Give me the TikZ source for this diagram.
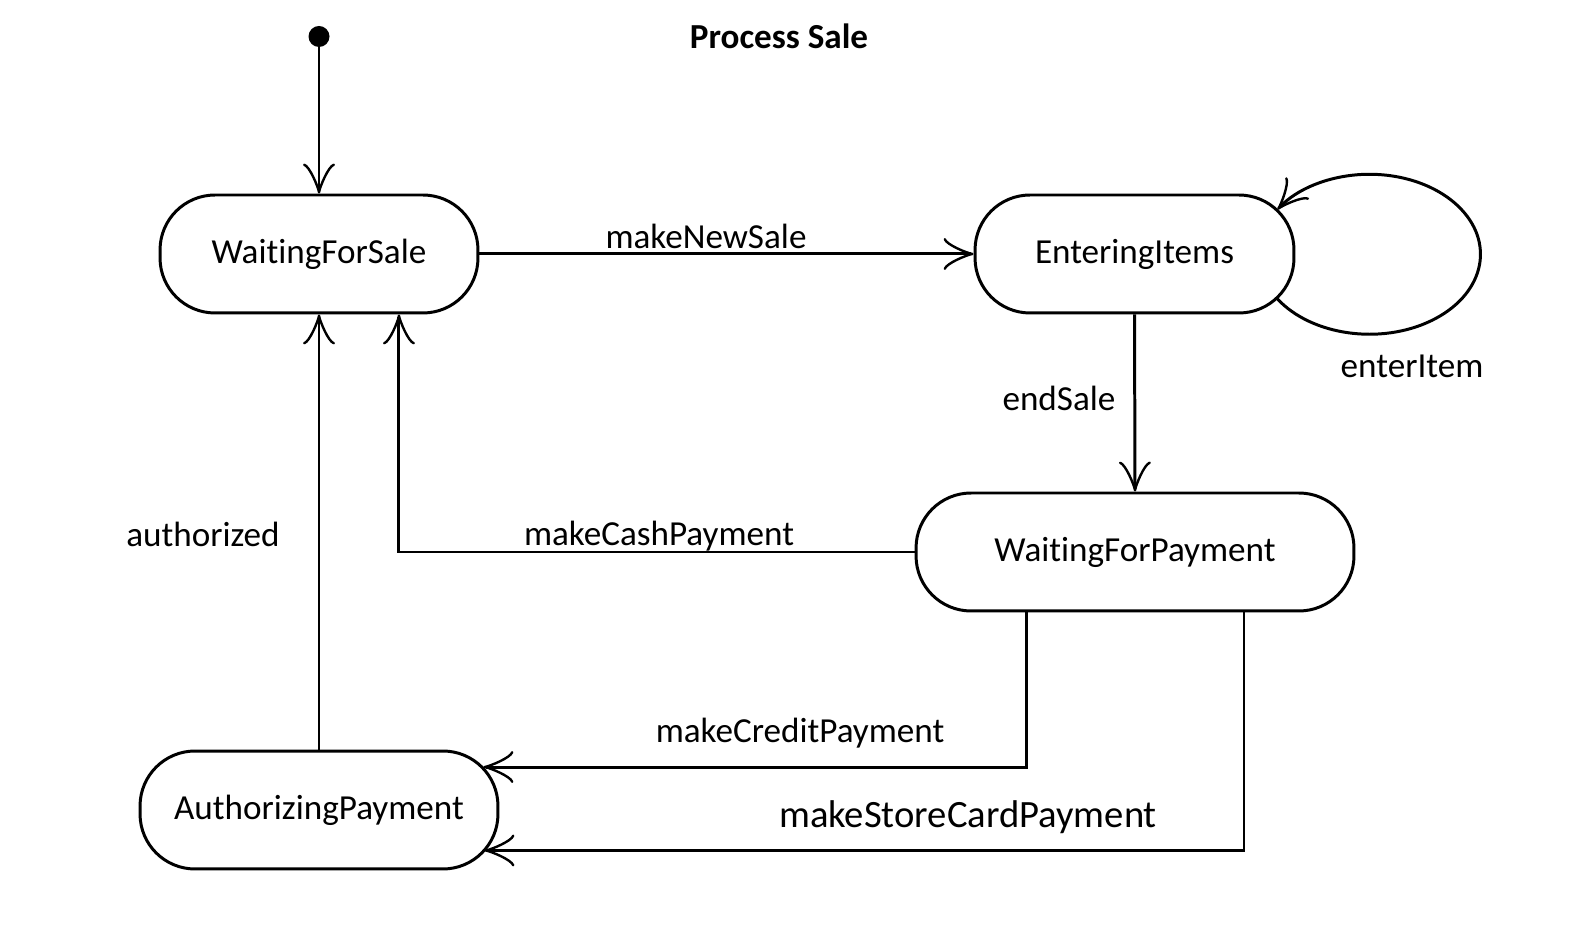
\documentclass[tikz,border=0pt]{standalone}
\usepackage{fontspec}
\setmainfont{Carlito}[Ligatures=NoCommon]
\usetikzlibrary{arrows.meta}
\newcommand{\txt}{\fontsize{20}{24}\selectfont}

\begin{document}
\begin{tikzpicture}[x=0.02cm,y=0.02cm,
% State style
state/.style={rectangle,rounded corners=1.1cm,draw,line width=1.7pt,
	fill=white,minimum height=2.36cm,font=\txt,inner sep=0pt},
init/.style={circle,fill=black,minimum size=0.42cm,inner sep=0pt},
% Transition style
trans/.style={line width=1.7pt,
	-{Classical TikZ Rightarrow[length=0.6cm,width=0.64cm]}},
% Label style
lbl/.style={font=\txt,inner sep=0pt},
]
\useasboundingbox (0,0) rectangle (1588,926);
%% Draw states
\node (start) [init] at (319,889.5) {};
\node (title) [font=\fontsize{20}{24}\selectfont\bfseries] at (779,889.5) {Process Sale};
\node (s1) [state,minimum width=6.36cm] at (319,672) {WaitingForSale};
\node (s2) [state,minimum width=6.38cm] at (1134.5,672) {EnteringItems};
\node (s3) [state,minimum width=8.76cm] at (1135,374) {WaitingForPayment};
\node (s4) [state,minimum width=7.16cm] at (319,116) {AuthorizingPayment};

%% Draw transitions
\draw [trans] (start) -- (s1.north);
\draw [trans] (s1.east) -- (s2.west);
\draw [trans] ([xshift=-0.36cm,yshift=-0.9cm]s2.east)
	arc[start angle=214,end angle=506,x radius=2.22cm,y radius=1.6cm];
\draw [trans] (s2.south) -- (s3.north);
\draw [trans] (s3.west) -| ([xshift=1.6cm]s1.south);
\draw [trans] (s4.north) -- (s1.south);
\draw [trans] ([xshift=-2.18cm]s3.south) |- ([xshift=-0.32cm,yshift=0.86cm]s4.east);
\draw [trans] ([xshift=2.18cm]s3.south) |- ([xshift=-0.3cm,yshift=-0.81cm]s4.east);

%% Labels
\node (l1) [lbl] at (706,690) {makeNewSale};
\node (l2) [lbl] at (1412,560) {enterItem};
\node (l3) [lbl] at (1059,528) {endSale};
\node (l4) [lbl] at (659,390) {makeCashPayment};
\node (l5) [lbl] at (203,392) {authorized};
\node (l6) [lbl] at (800,193) {makeCreditPayment};
\node (l7) [lbl,font=\fontsize{22}{26}\selectfont] at (968,109) {makeStoreCardPayment};

\end{tikzpicture}
\end{document}
